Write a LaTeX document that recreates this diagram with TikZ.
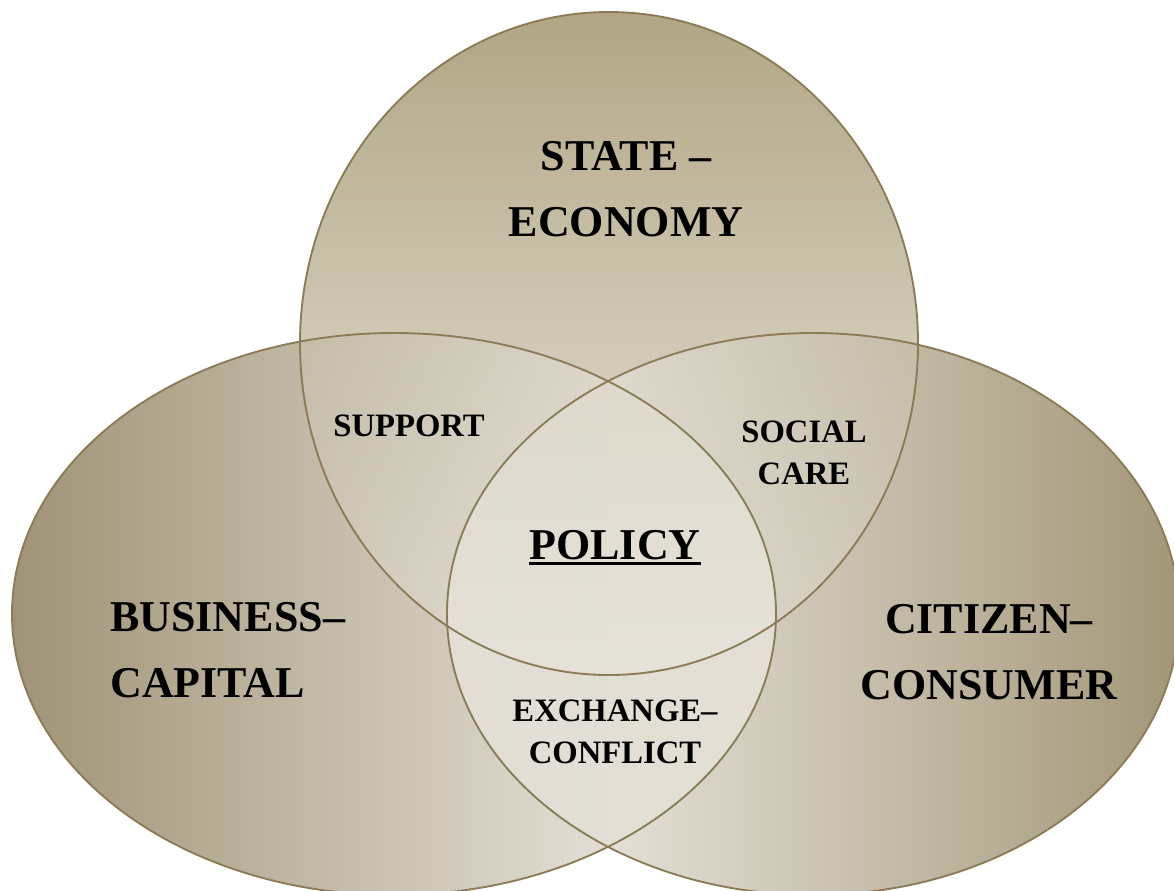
\documentclass[tikz,border=0pt]{standalone}
\usepackage{fontspec}
\setmainfont{Liberation Serif}
\definecolor{vennline}{RGB}{139,123,86}
\definecolor{statedark}{RGB}{177,166,133}
\definecolor{statelight}{RGB}{238,235,228}
\definecolor{businessdark}{RGB}{160,147,118}
\definecolor{citizendark}{RGB}{163,151,121}
\definecolor{innerlight}{RGB}{246,244,240}
\newcommand{\thickul}[1]{\setbox0\hbox{#1}\rlap{\rule[-3.9pt]{\wd0}{2.3pt}}\box0}
\begin{document}
\begin{tikzpicture}[x=0.75pt,y=0.75pt,yscale=-1,xscale=1,
  statefill/.style={top color=statedark,bottom color=statelight},
  businessfill/.style={left color=businessdark,right color=innerlight},
  citizenfill/.style={left color=innerlight,right color=citizendark},
  bigtext/.style={font=\bfseries\fontsize{33}{49.5}\selectfont,align=center,inner sep=0pt},
  smalltext/.style={font=\bfseries\fontsize{24.5}{31.5}\selectfont,align=center,inner sep=0pt},
  ring/.style={draw=vennline,line width=1.4pt}]
\useasboundingbox (0,0) rectangle (1174,890);
\clip (0,0) rectangle (1174,890);

%Shape: Ellipse, state
\shade [statefill] (609,343.5) ellipse (309 and 331.5);
%Shape: Ellipse, business
\shade [businessfill] (394,614) ellipse (382 and 281);
%overlap state/business
\begin{scope}
\clip (394,614) ellipse (382 and 281);
\shade [statefill,fill opacity=0.35] (609,343.5) ellipse (309 and 331.5);
\end{scope}
%Shape: Ellipse, citizen
\shade [citizenfill] (813,614) ellipse (366 and 281);
%overlaps with citizen
\begin{scope}
\clip (813,614) ellipse (366 and 281);
\shade [businessfill,fill opacity=0.5] (394,614) ellipse (382 and 281);
\shade [statefill,fill opacity=0.3] (609,343.5) ellipse (309 and 331.5);
\end{scope}

%Outlines
\draw [ring] (609,343.5) ellipse (309 and 331.5);
\draw [ring] (394,614) ellipse (382 and 281);
\draw [ring] (813,614) ellipse (366 and 281);

% Text Node
\node [bigtext] (state) at (626,189) {STATE --\\ECONOMY};
% Text Node
\node [bigtext,align=left,anchor=west] (business) at (110,650) {BUSINESS--\\CAPITAL};
% Text Node
\node [bigtext] (citizen) at (989,652) {CITIZEN--\\CONSUMER};
% Text Node
\node [bigtext] (policy) at (615,548) {\thickul{POLICY}};
% Text Node
\node [smalltext] (support) at (409,426) {SUPPORT};
% Text Node
\node [smalltext] (social) at (804,453) {SOCIAL\\CARE};
% Text Node
\node [smalltext] (exchange) at (615,732) {EXCHANGE--\\CONFLICT};

\end{tikzpicture}
\end{document}
